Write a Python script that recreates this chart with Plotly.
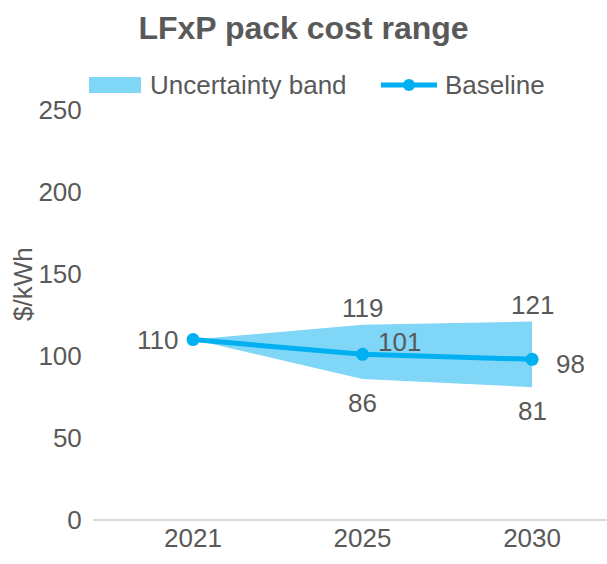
import plotly.graph_objects as go

years = ["2021", "2025", "2030"]
baseline = [110, 101, 98]
upper = [110, 119, 121]
lower = [110, 86, 81]

band_color = "#80d6f7"
line_color = "#00b0f0"
text_color = "#595959"
font_family = "Liberation Sans, Arial, sans-serif"

W, H = 607, 564
L, R, T, B = 93, 0, 110, 44
pw, ph = W - L - R, H - T - B


def px_x(px):
    return (px - L) / pw


def px_y(py):
    return (H - B - py) / ph


xs = list(range(len(years)))

fig = go.Figure()

# Uncertainty band: upper edge forward, lower edge back
fig.add_trace(go.Scatter(
    x=xs + xs[::-1],
    y=upper + lower[::-1],
    fill="toself",
    fillcolor=band_color,
    line=dict(width=0, color=band_color),
    mode="lines",
    name="Uncertainty band",
    hoverinfo="skip",
    showlegend=False,
))

fig.add_trace(go.Scatter(
    x=xs,
    y=baseline,
    mode="lines+markers",
    line=dict(color=line_color, width=5),
    marker=dict(color=line_color, size=13),
    name="Baseline",
    showlegend=False,
))

lbl_font = dict(family=font_family, size=26, color=text_color)

# Baseline labels
base_offsets = [(-36, 0), (37, 12), (38, -5)]
for i, (v, (dx, dy)) in enumerate(zip(baseline, base_offsets)):
    fig.add_annotation(x=xs[i], y=v, text=str(v), showarrow=False,
                       xshift=dx, yshift=dy, font=lbl_font)

# Band edge labels (skip the shared starting point)
for i in range(1, len(years)):
    fig.add_annotation(x=xs[i], y=upper[i], text=str(upper[i]), showarrow=False,
                       yshift=17, font=lbl_font)
    fig.add_annotation(x=xs[i], y=lower[i], text=str(lower[i]), showarrow=False,
                       yshift=-24, font=lbl_font)

# Legend drawn as shapes + text
leg_y = 85
shapes = [
    dict(type="rect", xref="paper", yref="paper",
         x0=px_x(89), x1=px_x(141), y0=px_y(leg_y + 8), y1=px_y(leg_y - 8),
         fillcolor=band_color, line=dict(width=0)),
    dict(type="line", xref="paper", yref="paper",
         x0=px_x(381), x1=px_x(437), y0=px_y(leg_y), y1=px_y(leg_y),
         line=dict(color=line_color, width=5)),
    dict(type="circle", xref="paper", yref="paper",
         x0=px_x(403), x1=px_x(415), y0=px_y(leg_y + 6), y1=px_y(leg_y - 6),
         fillcolor=line_color, line=dict(width=0)),
]
for label, x0 in [("Uncertainty band", 148), ("Baseline", 443)]:
    fig.add_annotation(x=px_x(x0), y=px_y(leg_y), xref="paper", yref="paper",
                       text=label, showarrow=False, xanchor="left", yanchor="middle",
                       font=lbl_font)

# Y-axis title
fig.add_annotation(x=px_x(23), y=px_y(284), xref="paper", yref="paper",
                   text="$/kWh", textangle=-90, showarrow=False,
                   xanchor="center", yanchor="middle", font=lbl_font)

fig.update_layout(
    width=W, height=H,
    margin=dict(l=L, r=R, t=T, b=B),
    paper_bgcolor="white", plot_bgcolor="white",
    font=dict(family=font_family, color=text_color, size=26),
    title=dict(text="<b>LFxP pack cost range</b>", x=0.5, xanchor="center",
               y=1 - 28 / H, yanchor="middle",
               font=dict(size=32, color=text_color, family=font_family)),
    shapes=shapes,
    showlegend=False,
)

fig.update_xaxes(
    tickvals=xs, ticktext=years,
    range=[-0.59, 2.442],
    showgrid=False, zeroline=False,
    showline=False, ticks="",
    tickfont=dict(size=26, color=text_color),
)

fig.update_yaxes(
    range=[0, 250], dtick=50,
    showgrid=False, zeroline=True, zerolinecolor="#d9d9d9", zerolinewidth=2,
    showline=False, ticks="outside", ticklen=5, tickcolor="white",
    tickfont=dict(size=26, color=text_color),
)

fig.write_html("out.html")
